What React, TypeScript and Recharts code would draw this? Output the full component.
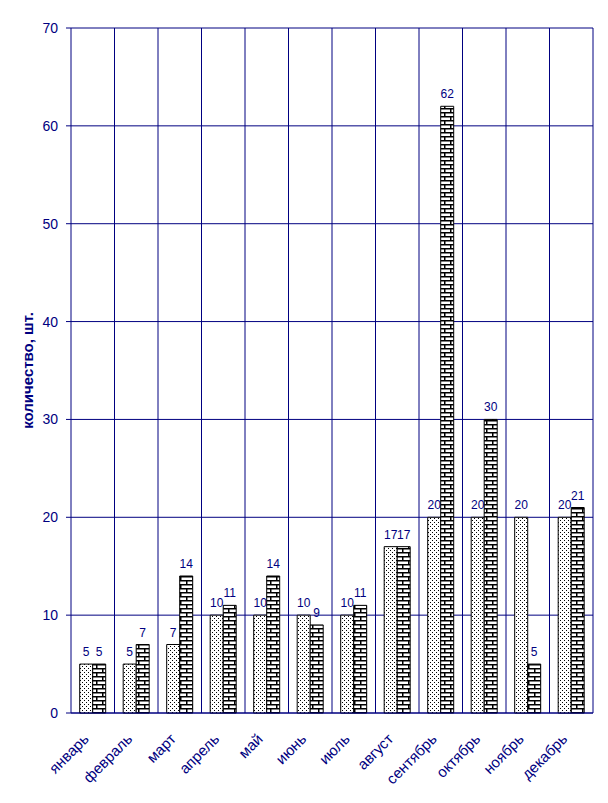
import { BarChart, Bar, XAxis, YAxis, CartesianGrid, LabelList } from "recharts";

const months = [
  "январь",
  "февраль",
  "март",
  "апрель",
  "май",
  "июнь",
  "июль",
  "август",
  "сентябрь",
  "октябрь",
  "ноябрь",
  "декабрь",
];
const seriesDots = [5, 5, 7, 10, 10, 10, 10, 17, 20, 20, 20, 20];
const seriesBricks = [5, 7, 14, 11, 14, 9, 11, 17, 62, 30, 5, 21];
const yTicks = [0, 10, 20, 30, 40, 50, 60, 70];

const NAVY = "#000080";
const FONT = "'Liberation Sans', Arial, sans-serif";

const data = months.map((m, i) => ({ month: m, dots: seriesDots[i], bricks: seriesBricks[i] }));

function MonthTick(props: any) {
  const { x, y, payload } = props;
  const ax = x - 3;
  const ay = y + 19;
  return (
    <text
      x={ax}
      y={ay}
      textAnchor="end"
      fill={NAVY}
      fontSize={15}
      fontFamily={FONT}
      transform={`rotate(-45, ${ax}, ${ay})`}
    >
      {payload.value}
    </text>
  );
}

function AxisTitle(props: any) {
  const vb = props.viewBox;
  const cx = vb.x + 27;
  const cy = vb.y + vb.height / 2;
  return (
    <text
      x={cx}
      y={cy}
      textAnchor="middle"
      dominantBaseline="central"
      fill={NAVY}
      fontSize={15}
      fontWeight="bold"
      fontFamily={FONT}
      transform={`rotate(-90, ${cx}, ${cy})`}
    >
      количество, шт.
    </text>
  );
}

export default function App() {
  return (
    <div style={{ position: "absolute", left: 0, top: 0, width: 608, height: 803, background: "#fff" }}>
      <BarChart
        width={608}
        height={803}
        data={data}
        margin={{ top: 28, right: 15, bottom: 0, left: 0 }}
        barCategoryGap="20%"
        barGap={0}
      >
        <defs>
          <pattern id="dotFill" width="4" height="4" patternUnits="userSpaceOnUse">
            <rect width="4" height="4" fill="#fff" />
            <rect x="0" y="0" width="1" height="1" fill="#000" />
            <rect x="2" y="2" width="1" height="1" fill="#000" />
          </pattern>
          <pattern id="brickFill" width="12" height="8" patternUnits="userSpaceOnUse">
            <rect width="12" height="8" fill="#fff" />
            <rect x="0" y="0" width="12" height="1.5" fill="#000" />
            <rect x="0" y="4" width="12" height="1.5" fill="#000" />
            <rect x="0" y="0" width="1.5" height="4" fill="#000" />
            <rect x="6" y="4" width="1.5" height="4" fill="#000" />
          </pattern>
        </defs>
        <CartesianGrid
          stroke={NAVY}
          strokeWidth={1}
          verticalCoordinatesGenerator={({ offset }: any) =>
            months.map((_, i) => offset.left + (offset.width * (i + 1)) / months.length)
          }
        />
        <XAxis
          dataKey="month"
          height={90}
          interval={0}
          tickLine={false}
          axisLine={{ stroke: NAVY }}
          tick={<MonthTick />}
        />
        <YAxis
          width={71}
          domain={[0, 70]}
          ticks={yTicks}
          interval={0}
          tickSize={5}
          tickMargin={8}
          tickLine={{ stroke: NAVY }}
          axisLine={{ stroke: NAVY }}
          tick={{ fill: NAVY, fontSize: 14, fontFamily: FONT }}
          label={{ content: <AxisTitle /> }}
        />
        <Bar dataKey="dots" fill="url(#dotFill)" stroke="#000" strokeWidth={1} isAnimationActive={false}>
          <LabelList dataKey="dots" position="top" offset={8} fill={NAVY} fontSize={12} fontFamily={FONT} />
        </Bar>
        <Bar dataKey="bricks" fill="url(#brickFill)" stroke="#000" strokeWidth={1} isAnimationActive={false}>
          <LabelList dataKey="bricks" position="top" offset={8} fill={NAVY} fontSize={12} fontFamily={FONT} />
        </Bar>
      </BarChart>
    </div>
  );
}
